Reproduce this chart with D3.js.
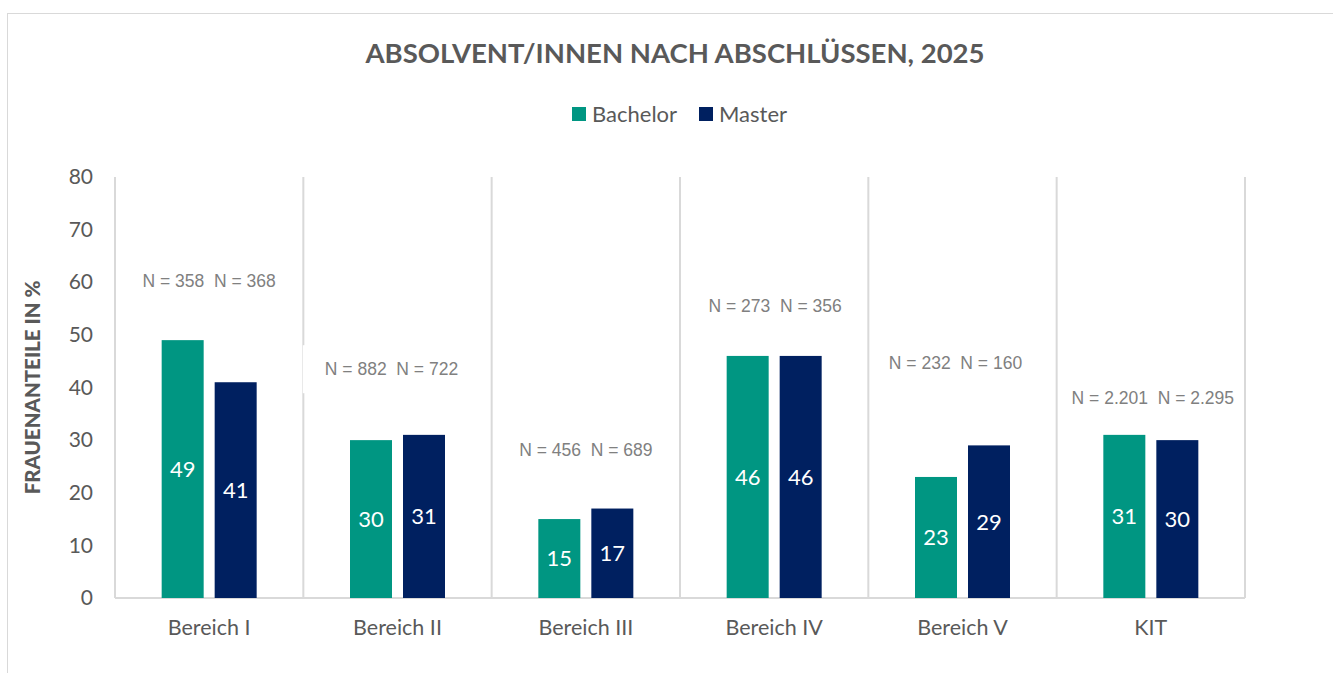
<!DOCTYPE html>
<html>
<head>
<meta charset="utf-8">
<title>Absolvent/innen nach Abschlüssen</title>
<script src="https://cdn.jsdelivr.net/npm/d3@7"></script>
<style>
    body { margin: 0; background: #fff; }
    text { font-family: Lato, "Open Sans", sans-serif; }
</style>
</head>
<body>
<script>
    // data
    var categories = ["Bereich I", "Bereich II", "Bereich III", "Bereich IV", "Bereich V", "KIT"];
    var bachelor = [49, 30, 15, 46, 23, 31];
    var master = [41, 31, 17, 46, 29, 30];
    var nBachelor = ["358", "882", "456", "273", "232", "2.201"];
    var nMaster = ["368", "722", "689", "356", "160", "2.295"];
    var yTicks = [0, 10, 20, 30, 40, 50, 60, 70, 80];

    // where the N text boxes sit (value level, x shift)
    var nLevel = [60.2, 43.5, 28.1, 55.5, 44.7, 38.0];
    var nShift = [0, -6, 0, 1, -7, 2];

    var w = 1333, h = 673;
    var teal = "#009682", navy = "#002060", grey = "#595959";

    var svg = d3.select("body").append("svg")
        .attr("width", w)
        .attr("height", h);

    svg.append("rect")
        .attr("x", 7.5).attr("y", 13.5)
        .attr("width", 1340).attr("height", 700)
        .attr("fill", "#fff")
        .attr("stroke", "#d9d9d9");

    var x = d3.scaleBand().domain(categories).range([115, 1245]);
    var y = d3.scaleLinear().domain([0, 80]).range([598, 177]);

    // vertical separators between categories
    var seps = d3.range(categories.length + 1).map(function(i) {
        return 115 + i * x.step();
    });
    svg.selectAll("line.sep")
        .data(seps)
        .enter()
        .append("line")
        .attr("class", "sep")
        .attr("x1", function(d) { return d; })
        .attr("x2", function(d) { return d; })
        .attr("y1", y(80))
        .attr("y2", y(0))
        .attr("stroke", "#d9d9d9")
        .attr("stroke-width", 2);

    svg.append("line")
        .attr("x1", 115).attr("x2", 1245)
        .attr("y1", y(0)).attr("y2", y(0))
        .attr("stroke", "#d9d9d9")
        .attr("stroke-width", 2);

    // y axis labels
    var yAxis = svg.append("g")
        .attr("transform", "translate(93,0)")
        .call(d3.axisLeft(y).tickValues(yTicks).tickSize(0).tickPadding(0));
    yAxis.select(".domain").remove();
    yAxis.selectAll("text")
        .attr("font-family", "Lato, sans-serif")
        .attr("font-size", "21px")
        .attr("fill", grey);

    // category labels
    var xAxis = svg.append("g")
        .attr("transform", "translate(0," + y(0) + ")")
        .call(d3.axisBottom(x).tickSize(0).tickPadding(22));
    xAxis.select(".domain").remove();
    xAxis.selectAll("text")
        .attr("font-family", "Lato, sans-serif")
        .attr("font-size", "21.5px")
        .attr("fill", grey);

    var bw = 42, off = 26.5;
    var series = [
        { name: "Bachelor", values: bachelor, color: teal, dx: -off },
        { name: "Master", values: master, color: navy, dx: off }
    ];

    series.forEach(function(s) {
        var g = svg.append("g");
        g.selectAll("rect")
            .data(s.values)
            .enter()
            .append("rect")
            .attr("x", function(d, i) { return x(categories[i]) + x.bandwidth() / 2 + s.dx - bw / 2; })
            .attr("y", function(d) { return y(d); })
            .attr("width", bw)
            .attr("height", function(d) { return y(0) - y(d); })
            .attr("fill", s.color);
        g.selectAll("text")
            .data(s.values)
            .enter()
            .append("text")
            .text(function(d) { return d; })
            .attr("x", function(d, i) { return x(categories[i]) + x.bandwidth() / 2 + s.dx; })
            .attr("y", function(d) { return (y(d) + y(0)) / 2; })
            .attr("dy", "0.36em")
            .attr("text-anchor", "middle")
            .attr("font-size", "22px")
            .attr("fill", "#fff");
    });

    // N labels (text boxes with white background)
    var nG = svg.append("g");
    categories.forEach(function(c, i) {
        var cx = x(c) + x.bandwidth() / 2 + nShift[i];
        var t = nG.append("text")
            .text("N = " + nBachelor[i] + "\u00a0\u00a0N = " + nMaster[i])
            .attr("x", cx)
            .attr("y", y(nLevel[i]))
            .attr("dy", "0.35em")
            .attr("text-anchor", "middle")
            .style("font-family", "'Liberation Sans', Arial, sans-serif")
            .attr("font-size", "17.5px")
            .attr("fill", "#808080");
        if (i === 1) {
            var bb = t.node().getBBox();
            nG.insert("rect", "text")
                .attr("x", bb.x - 22).attr("y", bb.y - 14)
                .attr("width", bb.width + 30).attr("height", bb.height + 28)
                .attr("fill", "#fff");
        }
    });

    // title
    svg.append("text")
        .text("ABSOLVENT/INNEN NACH ABSCHLÜSSEN, 2025")
        .attr("x", 675)
        .attr("y", 53)
        .attr("dy", "0.35em")
        .attr("text-anchor", "middle")
        .attr("font-size", "27.5px")
        .attr("font-weight", "bold")
        .attr("fill", grey);

    // legend
    var legend = svg.append("g");
    var lx = [572, 699];
    series.forEach(function(s, i) {
        legend.append("rect")
            .attr("x", lx[i]).attr("y", 107)
            .attr("width", 14).attr("height", 14)
            .attr("fill", s.color);
        legend.append("text")
            .text(s.name)
            .attr("x", lx[i] + 20)
            .attr("y", 114)
            .attr("dy", "0.35em")
            .attr("font-size", "22px")
            .attr("fill", grey);
    });

    // y axis title
    svg.append("text")
        .text("FRAUENANTEILE IN %")
        .attr("transform", "translate(33," + ((y(0) + y(80)) / 2) + ") rotate(-90)")
        .attr("dy", "0.35em")
        .attr("text-anchor", "middle")
        .attr("font-size", "20.5px")
        .attr("font-weight", "900")
        .attr("fill", grey);
</script>
</body>
</html>
